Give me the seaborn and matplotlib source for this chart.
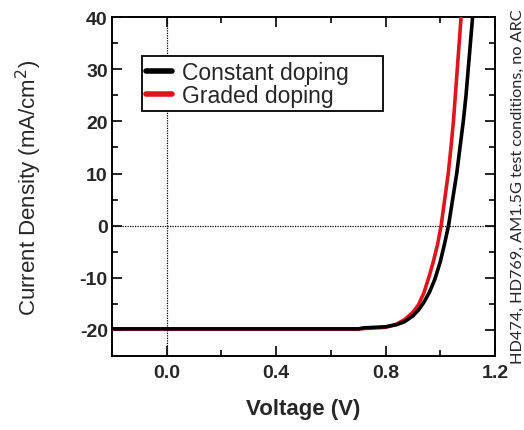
import pandas as pd
import matplotlib
matplotlib.use("Agg")
import matplotlib.pyplot as plt
import seaborn as sns
from matplotlib.ticker import MultipleLocator

# ================== DATA ================== #
v_constant = [-0.2, 0.70, 0.72, 0.80, 0.84, 0.87, 0.90, 0.92, 0.94, 0.96, 0.98, 1.00,
              1.015, 1.030, 1.045, 1.060, 1.072, 1.084, 1.094, 1.102, 1.110, 1.118]
j_constant = [-19.8, -19.8, -19.6, -19.4, -19.0, -18.4, -17.3, -16.2, -14.7, -12.8, -10.3, -6.9,
              -3.6, 0.0, 5.0, 10.0, 15.0, 20.0, 25.0, 30.0, 35.0, 40.0]

v_graded = [-0.2, 0.70, 0.80, 0.84, 0.87, 0.90, 0.92, 0.94, 0.96, 0.975, 0.99, 1.003,
            1.016, 1.029, 1.039, 1.048, 1.055, 1.062, 1.069, 1.076]
j_graded = [-19.8, -19.8, -19.5, -18.9, -18.0, -16.6, -15.2, -12.9, -9.6, -6.8, -3.6, 0.0,
            5.0, 10.0, 15.0, 20.0, 25.0, 30.0, 35.0, 40.0]

labels = ["Constant doping", "Graded doping"]
x_ticks = [0.0, 0.4, 0.8, 1.2]
y_ticks = [-20, -10, 0, 10, 20, 30, 40]

df = pd.concat([
    pd.DataFrame({"V": v_constant, "J": j_constant, "serie": labels[0]}),
    pd.DataFrame({"V": v_graded, "J": j_graded, "serie": labels[1]}),
])

# ================== ESTILO ================== #
sns.set_style("ticks")
plt.rcParams["font.family"] = ["Liberation Sans", "DejaVu Sans"]
plt.rcParams["axes.unicode_minus"] = False

fig = plt.figure(figsize=(5.24, 4.31), dpi=100)
ax = fig.add_axes([0.2137, 0.1717, 0.7310, 0.7863])

# linhas de referência pontilhadas
ax.axhline(0, color="black", lw=0.9, ls=(0, (1, 1)), zorder=1)
ax.axvline(0, color="black", lw=0.9, ls=(0, (1, 1)), zorder=1)

# vermelho primeiro, preto por cima
sns.lineplot(data=df[df["serie"] == labels[1]], x="V", y="J", color="#e0151b",
             lw=2.6, ax=ax, label=labels[1], sort=False, zorder=3,
             solid_joinstyle="round", solid_capstyle="round")
sns.lineplot(data=df[df["serie"] == labels[0]], x="V", y="J", color="black",
             lw=2.6, ax=ax, label=labels[0], sort=False, zorder=4,
             solid_joinstyle="round", solid_capstyle="round")

ax.set_xlim(-0.2, 1.2)
ax.set_ylim(-25, 40)
ax.set_xticks(x_ticks)
ax.set_xticklabels([f"{t:.1f}" for t in x_ticks])
ax.set_yticks(y_ticks)
ax.xaxis.set_minor_locator(MultipleLocator(0.2))
ax.yaxis.set_minor_locator(MultipleLocator(5))

ax.tick_params(which="both", direction="in", top=True, right=True, width=1.2, color="black")
ax.tick_params(which="major", length=7, labelsize=14)
ax.tick_params(axis="y", which="major", pad=3)
ax.tick_params(axis="x", which="major", pad=6)
ax.tick_params(which="minor", length=4)
for lab in ax.get_xticklabels() + ax.get_yticklabels():
    lab.set_fontweight("bold")

for s in ax.spines.values():
    s.set_linewidth(1.4)
    s.set_color("black")

ax.set_xlabel("Voltage (V)", fontsize=16, fontweight="bold", labelpad=12)
ax.set_ylabel("Current Density (mA/cm$^2$)", fontsize=16, labelpad=26)

# legenda na ordem original, caixa mais larga como no original
h, l = ax.get_legend_handles_labels()
ordem = [l.index(labels[0]), l.index(labels[1])]
leg = ax.legend([h[i] for i in ordem], [l[i] for i in ordem],
                loc="upper left", bbox_to_anchor=(0.078, 0.5, 0.629, 0.385),
                mode="expand", borderaxespad=0,
                fontsize=16.5, handlelength=1.1, handletextpad=0.45,
                labelspacing=0.0, borderpad=0.2, fancybox=False,
                framealpha=1, edgecolor="black")
leg.get_frame().set_linewidth(1.3)
for line in leg.get_lines():
    line.set_linewidth(4)

fig.text(0.988, 0.568, "HD474, HD769, AM1.5G test conditions, no ARC",
         rotation=90, ha="center", va="center", fontsize=11.7,
         family=["Lato", "DejaVu Sans"])

fig.savefig("out.png", dpi=100)
